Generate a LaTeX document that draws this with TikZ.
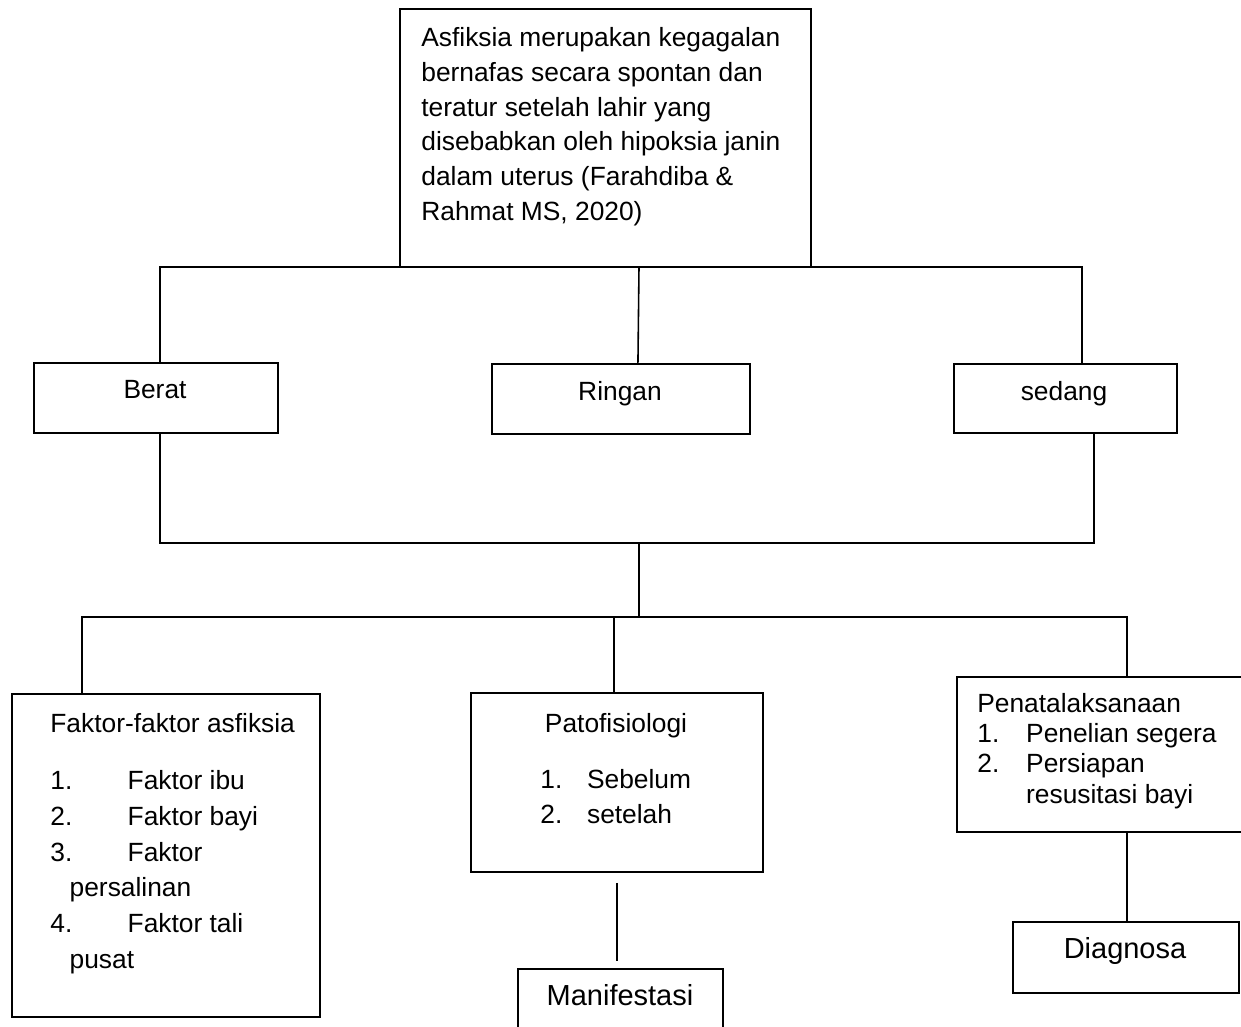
\documentclass[tikz,border=0pt]{standalone}
\usepackage{fontspec}
\setmainfont{Liberation Sans}
\usetikzlibrary{positioning,calc}

\begin{document}
\begin{tikzpicture}[
    x=0.02cm, y=-0.02cm,
    box/.style={rectangle, draw, line width=1.1pt, inner sep=0pt, anchor=north west},
    txt/.style={inner sep=0pt, font=\fontsize{15}{17}\selectfont, align=left},
    bigtxt/.style={inner sep=0pt, font=\fontsize{16.5}{19}\selectfont},
    wire/.style={line width=0.9pt}
]
\clip (0,0) rectangle (1241,1027);

% Boxes
\node[box, minimum width=8.22cm, minimum height=5.16cm] (def) at (399,8) {};
\node[box, minimum width=4.88cm, minimum height=1.40cm] (berat) at (33,362) {};
\node[box, minimum width=5.16cm, minimum height=1.40cm] (ringan) at (491,363) {};
\node[box, minimum width=4.46cm, minimum height=1.38cm] (sedang) at (953,363) {};
\node[box, minimum width=6.16cm, minimum height=6.46cm] (faktor) at (11,693) {};
\node[box, minimum width=5.84cm, minimum height=3.58cm] (pato) at (470,692) {};
\node[box, minimum width=6.00cm, minimum height=3.10cm] (penata) at (956,676) {};
\node[box, minimum width=4.10cm, minimum height=1.80cm] (manif) at (517,968) {};
\node[box, minimum width=4.52cm, minimum height=1.42cm] (diag) at (1012,921) {};

% Texts
\node[txt, anchor=north west, font=\fontsize{15}{19.8}\selectfont] (defText) at (421,27) {Asfiksia merupakan kegagalan\\bernafas secara spontan dan\\teratur setelah lahir yang\\disebabkan oleh hipoksia janin\\dalam uterus (Farahdiba \&\\Rahmat MS, 2020)};
\node[txt, anchor=base] (beratText) at (155,398) {Berat};
\node[txt, anchor=base] (ringanText) at (620,400) {Ringan};
\node[txt, anchor=base] (sedangText) at (1064,400) {sedang};
\node[txt, anchor=base west] (faktorTitle) at (50,732) {Faktor-faktor asfiksia};
\node[txt, anchor=north west, font=\fontsize{15}{20.4}\selectfont] (faktorList) at (50,770) {%
  \makebox[44pt][l]{1.}Faktor ibu\\
  \makebox[44pt][l]{2.}Faktor bayi\\
  \makebox[44pt][l]{3.}Faktor\\
  \hspace*{11pt}persalinan\\
  \makebox[44pt][l]{4.}Faktor tali\\
  \hspace*{11pt}pusat};
\node[txt, anchor=base] (patoTitle) at (616,732) {Patofisiologi};
\node[txt, anchor=north west, font=\fontsize{15}{19.8}\selectfont] (patoList) at (540,769) {%
  \makebox[26.6pt][l]{1.}Sebelum\\
  \makebox[26.6pt][l]{2.}setelah};
\node[txt, anchor=north west, font=\fontsize{15}{17.2}\selectfont] (penataText) at (977,693) {%
  Penatalaksanaan\\
  \makebox[27.8pt][l]{1.}Penelian segera\\
  \makebox[27.8pt][l]{2.}Persiapan\\
  \hspace*{27.8pt}resusitasi bayi};
\node[bigtxt, anchor=base] (manifText) at (620,1005) {Manifestasi};
\node[bigtxt, anchor=base] (diagText) at (1125,958) {Diagnosa};

% Connectors
\coordinate (busT1) at (160,267);
\coordinate (busT2) at (1082,267);
\coordinate (busTc) at (639,267);
\coordinate (busM1) at (160,543);
\coordinate (busM2) at (1094,543);
\coordinate (busMc) at (639,543);
\coordinate (busB1) at (82,617);
\coordinate (busB2) at (1127,617);
\coordinate (busBc) at (639,617);
\coordinate (busBp) at (614,617);

\draw[wire] (busT1 |- berat.north) -- (busT1) -- (busT2) -- (busT2 |- sedang.north);
\draw[wire] (busTc) -- ($(ringan.north)+(17,0)$);
\draw[wire] (busM1 |- berat.south) -- (busM1) -- (busM2) -- (busM2 |- sedang.south);
\draw[wire] (busMc) -- (busBc);
\draw[wire] (busB1 |- faktor.north) -- (busB1) -- (busB2) -- (busB2 |- penata.north);
\draw[wire] (busBp) -- (busBp |- pato.north);
\draw[wire, shorten <=0.2cm, shorten >=0.14cm] (pato.south) -- (pato.south |- manif.north);
\draw[wire] (busB2 |- penata.south) -- (busB2 |- diag.north);

\end{tikzpicture}
\end{document}
